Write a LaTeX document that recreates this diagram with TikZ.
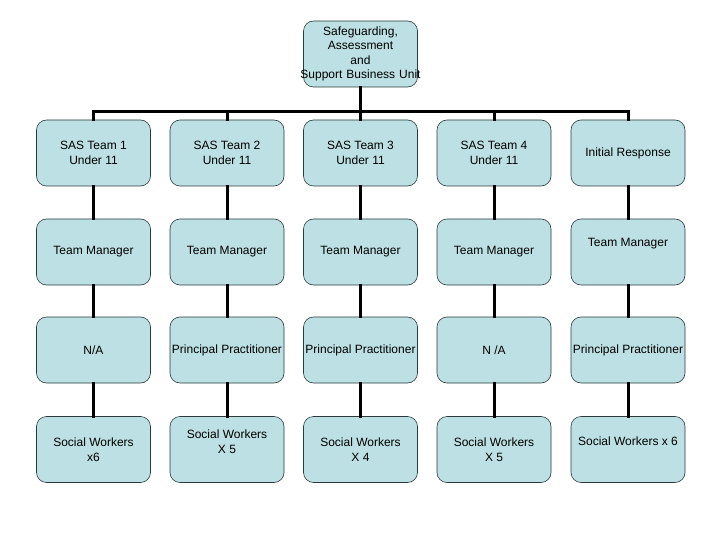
\documentclass[tikz,border=0pt]{standalone}
\usepackage{fontspec}
\setmainfont{Liberation Sans}
\definecolor{boxfill}{HTML}{BCE0E3}
\definecolor{boxline}{HTML}{2A3A3C}
\begin{document}
\begin{tikzpicture}[x=1pt,y=-1pt,
  unit/.style={draw=boxline, line width=0.6pt, fill=boxfill, rounded corners=10pt,
    minimum width=114pt, minimum height=66pt, inner sep=0pt, align=center,
    font=\fontsize{12}{14.5}\selectfont},
  raised/.style={text depth=#1},
  link/.style={line width=3pt, line cap=rect}]
\useasboundingbox (0,0) rectangle (720,540);
\node[unit, text width=114pt] (top) at (360.5,54) {Safeguarding,\\Assessment\\and\\\makebox[114pt][c]{Support Business Unit}};
% bar junctions
\foreach \c/\x in {1/93.5,2/227,3/360.5,4/494,5/628}{
  \coordinate (b\c) at (\x,112);
}
\node[unit] (r1c1) at (93.5,153) {SAS Team 1\\Under 11};
\node[unit] (r1c2) at (227,153) {SAS Team 2\\Under 11};
\node[unit] (r1c3) at (360.5,153) {SAS Team 3\\Under 11};
\node[unit] (r1c4) at (494,153) {SAS Team 4\\Under 11};
\node[unit] (r1c5) at (628,153) {Initial Response};

\node[unit] (r2c1) at (93.5,252) {Team Manager};
\node[unit] (r2c2) at (227,252) {Team Manager};
\node[unit] (r2c3) at (360.5,252) {Team Manager};
\node[unit] (r2c4) at (494,252) {Team Manager};
\node[unit,raised=18.5pt] (r2c5) at (628,252) {Team Manager};

\node[unit] (r3c1) at (93.5,350) {N/A};
\node[unit] (r3c2) at (227,350) {Principal Practitioner};
\node[unit] (r3c3) at (360.5,350) {Principal Practitioner};
\node[unit] (r3c4) at (494,350) {N /A};
\node[unit] (r3c5) at (628,350) {Principal Practitioner};

\node[unit] (r4c1) at (93.5,449.5) {Social Workers\\x6};
\node[unit,raised=16pt] (r4c2) at (227,449.5) {Social Workers\\X 5};
\node[unit] (r4c3) at (360.5,449.5) {Social Workers\\X 4};
\node[unit] (r4c4) at (494,449.5) {Social Workers\\X 5};
\node[unit,raised=16pt] (r4c5) at (628,449.5) {Social Workers x 6};

\draw[link] (top.south) -- (b3);
\draw[link] (b1) -- (b5);
\foreach \c in {1,...,5}{
  \draw[link] (b\c) -- (r1c\c.north);
  \draw[link] (r1c\c.south) -- (r2c\c.north);
  \draw[link] (r2c\c.south) -- (r3c\c.north);
  \draw[link] (r3c\c.south) -- (r4c\c.north);
}
\end{tikzpicture}
\end{document}
